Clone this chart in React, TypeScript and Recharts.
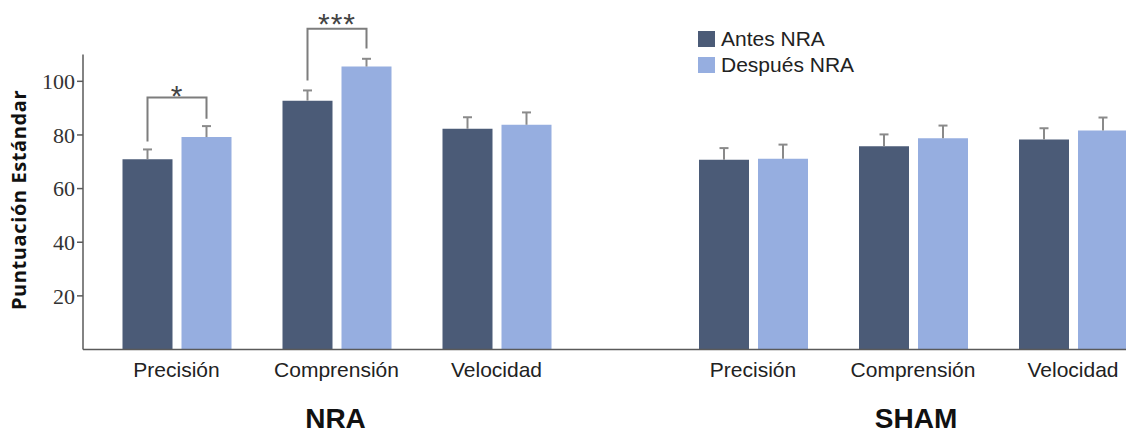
import React from "react";
import { BarChart, Bar, XAxis, YAxis, LabelList } from "recharts";

const measures = ["Precisión", "Comprensión", "Velocidad"];
const groupNames = ["NRA", "SHAM"];
const seriesNames = ["Antes NRA", "Después NRA"];

const nraBefore = [70.9, 92.8, 82.3];
const nraAfter = [79.2, 105.5, 83.8];
const nraBeforeErr = [3.7, 3.8, 4.3];
const nraAfterErr = [4.1, 2.9, 4.6];

const shamBefore = [70.8, 75.8, 78.3];
const shamAfter = [71.1, 78.8, 81.7];
const shamBeforeErr = [4.3, 4.4, 4.2];
const shamAfterErr = [5.3, 4.7, 4.8];

// significance brackets, NRA group only
const sigText = ["*", "***", ""];
const sigTop = [94, 119.6, null];
const sigLeftEnd = [77.6, 100.3, null];
const sigRightEnd = [86, 112.2, null];
const sigTextAt = [97.1, 123.8, null];

const yTicks = [20, 40, 60, 80, 100];

const DARK = "#4b5b77";
const LIGHT = "#96aee0";
const AXIS = "#5a5a5a";
const ERR = "#8a8a8a";
const BAR_SIZE = 50;
const BAR_GAP = 9;

const rows = (before: number[], after: number[], be: number[], ae: number[]) =>
  measures.map((m, i) => ({
    name: m,
    before: before[i],
    after: after[i],
    beforeErr: be[i],
    afterErr: ae[i],
  }));

const nraData = rows(nraBefore, nraAfter, nraBeforeErr, nraAfterErr);
const shamData = rows(shamBefore, shamAfter, shamBeforeErr, shamAfterErr);

// pull bar geometry out of label props (v3 passes viewBox)
const geom = (props: any) => {
  const vb = props.viewBox || props;
  return { x: vb.x ?? props.x, y: vb.y ?? props.y, width: vb.width ?? props.width, height: vb.height ?? props.height };
};

// one-sided error whisker drawn from the bar top, scaled off the bar itself
const whisker = (data: any[], key: string, errKey: string) => (props: any) => {
  const { x, y, width, height } = geom(props);
  const i = props.index;
  if (i == null) return null;
  const k = height / data[i][key];
  const cx = x + width / 2;
  const top = y - data[i][errKey] * k;
  return (
    <g>
      <line x1={cx} y1={y} x2={cx} y2={top} stroke={ERR} strokeWidth={2} />
      <line x1={cx - 4.5} y1={top} x2={cx + 4.5} y2={top} stroke={ERR} strokeWidth={2} />
    </g>
  );
};

const Bracket = (props: any) => {
  const { x, y, width, height } = geom(props);
  const index = props.index;
  if (index == null || sigTop[index] == null) return null;
  const k = height / nraData[index].after;
  const base = y + height;
  const py = (v: number) => base - v * k;
  const xr = x + width / 2;
  const xl = x - BAR_GAP - width / 2;
  const top = sigTop[index] as number;
  return (
    <g>
      <polyline
        points={`${xl},${py(sigLeftEnd[index] as number)} ${xl},${py(top)} ${xr},${py(top)} ${xr},${py(sigRightEnd[index] as number)}`}
        fill="none"
        stroke="#7d7d7d"
        strokeWidth={2}
      />
      <text
        x={(xl + xr) / 2}
        y={py(sigTextAt[index] as number) + 17}
        textAnchor="middle"
        fontSize={30}
        fontFamily="Liberation Sans"
        letterSpacing={1}
        fill="#444"
      >
        {sigText[index]}
      </text>
    </g>
  );
};

const xTick = { fill: "#222", fontSize: 21, fontFamily: "Liberation Sans" };

export default function App() {
  return (
    <div style={{ position: "absolute", left: 0, top: 0, width: 1126, height: 435, overflow: "hidden", background: "#fff" }}>
      <div style={{ position: "absolute", left: 0, top: 0 }}>
        <BarChart width={673} height={435} data={nraData} margin={{ top: 54.5, right: 0, left: 0, bottom: 55.5 }} barSize={BAR_SIZE} barGap={BAR_GAP}>
          <XAxis dataKey="name" height={30} padding={{ left: 13.5, right: 96.5 }} tickLine={false} tickSize={0} tickMargin={12.5} stroke={AXIS} strokeWidth={1.5} tick={xTick} />
          <YAxis width={83} domain={[0, 110]} ticks={yTicks} tickSize={6} tickMargin={2} stroke={AXIS} strokeWidth={1.5} tick={{ fill: "#333", fontSize: 22, fontFamily: "Liberation Serif" }} />
          <Bar dataKey="before" name={seriesNames[0]} fill={DARK} isAnimationActive={false}>
            <LabelList dataKey="before" content={whisker(nraData, "before", "beforeErr")} />
          </Bar>
          <Bar dataKey="after" name={seriesNames[1]} fill={LIGHT} isAnimationActive={false}>
            <LabelList dataKey="after" content={whisker(nraData, "after", "afterErr")} />
            <LabelList dataKey="after" content={Bracket} />
          </Bar>
        </BarChart>
      </div>
      <div style={{ position: "absolute", left: 673, top: 0 }}>
        <BarChart width={480} height={435} data={shamData} margin={{ top: 54.5, right: 0, left: 0, bottom: 55.5 }} barSize={BAR_SIZE} barGap={BAR_GAP}>
          <XAxis dataKey="name" height={30} tickLine={false} tickSize={0} tickMargin={12.5} stroke={AXIS} strokeWidth={1.5} tick={xTick} />
          <YAxis hide domain={[0, 110]} ticks={yTicks} />
          <Bar dataKey="before" name={seriesNames[0]} fill={DARK} isAnimationActive={false}>
            <LabelList dataKey="before" content={whisker(shamData, "before", "beforeErr")} />
          </Bar>
          <Bar dataKey="after" name={seriesNames[1]} fill={LIGHT} isAnimationActive={false}>
            <LabelList dataKey="after" content={whisker(shamData, "after", "afterErr")} />
          </Bar>
        </BarChart>
      </div>
      <div style={{ position: "absolute", left: 698, top: 26, fontFamily: "Liberation Sans", fontSize: 21, color: "#222" }}>
        {seriesNames.map((s, i) => (
          <div key={s} style={{ display: "flex", alignItems: "center", height: 26 }}>
            <span style={{ display: "inline-block", width: 17, height: 16, background: i === 0 ? DARK : LIGHT, marginRight: 6 }} />
            <span>{s}</span>
          </div>
        ))}
      </div>
      <svg width={1126} height={435} style={{ position: "absolute", left: 0, top: 0, pointerEvents: "none" }}>
        <text transform="translate(26,200) rotate(-90)" textAnchor="middle" fontFamily="Open Sans" fontWeight="bold" fontSize={20} letterSpacing={0.6} fill="#111">
          Puntuación Estándar
        </text>
        <text x={335.5} y={428} textAnchor="middle" fontFamily="Liberation Sans" fontWeight="bold" fontSize={28} fill="#111">
          {groupNames[0]}
        </text>
        <text x={916} y={428} textAnchor="middle" fontFamily="Liberation Sans" fontWeight="bold" fontSize={28} fill="#111">
          {groupNames[1]}
        </text>
      </svg>
    </div>
  );
}
